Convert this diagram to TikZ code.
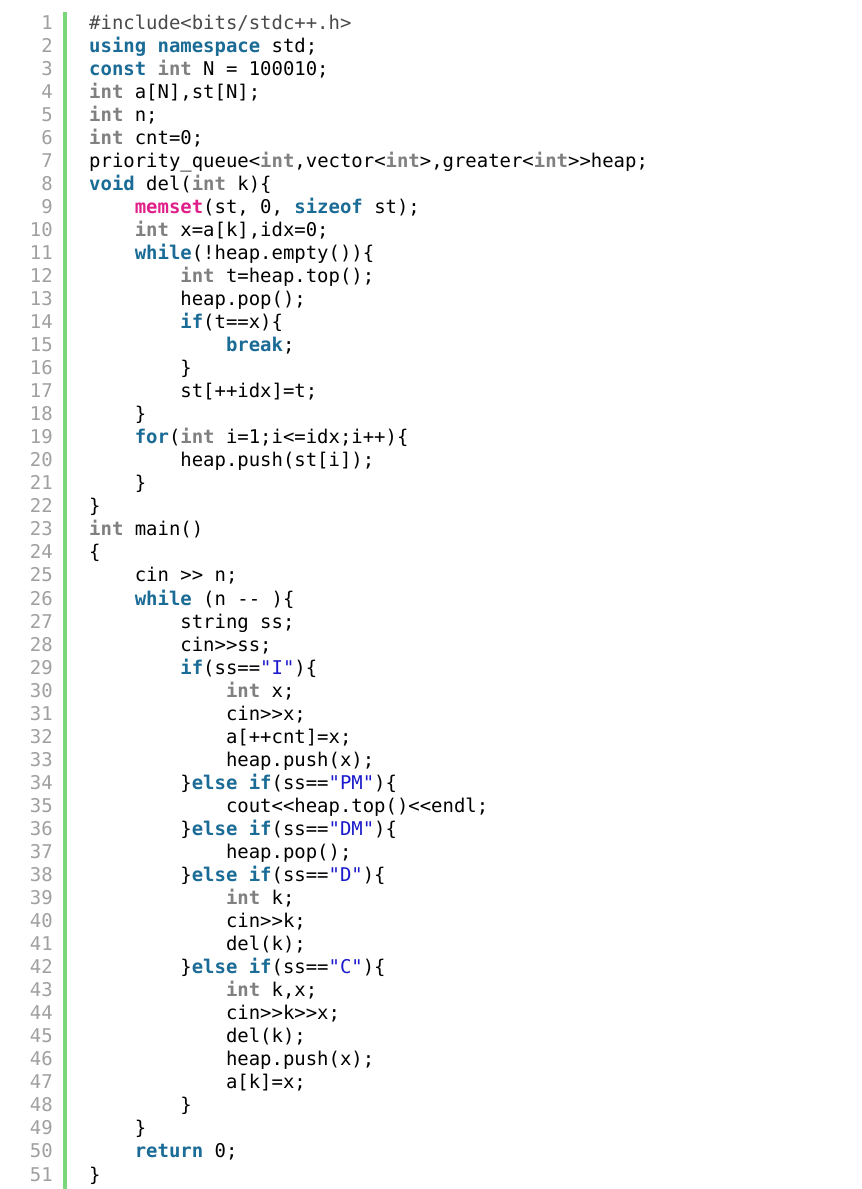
\documentclass[tikz,border=0pt]{standalone}
\usepackage{fontspec}
\setmonofont{DejaVu Sans Mono}
\definecolor{kwcol}{HTML}{1A6B96}
\definecolor{tycol}{HTML}{808080}
\definecolor{fncol}{HTML}{E0208A}
\definecolor{strcol}{HTML}{1A1ACC}
\definecolor{pptcol}{HTML}{4A4A4A}
\definecolor{numcol}{HTML}{A0A0A0}
\definecolor{barcol}{HTML}{7AD67A}
\newcommand\kwd[1]{\textcolor{kwcol}{\bfseries #1}}
\newcommand\typ[1]{\textcolor{tycol}{\bfseries #1}}
\newcommand\fnc[1]{\textcolor{fncol}{\bfseries #1}}
\newcommand\strg[1]{\textcolor{strcol}{#1}}
\newcommand\cl[3]{\node[codeline] (l#1) at ({89+45.6*#2},{29+23.04*(#1-1)}) {#3};}
\tikzset{
  codeline/.style={anchor=base west, inner sep=0pt, text=black, font=\ttfamily\fontsize{18.94pt}{23pt}\selectfont},
  lnum/.style={anchor=base east, inner sep=0pt, text=numcol, font=\ttfamily\fontsize{18.94pt}{23pt}\selectfont},
}
\begin{document}
\begin{tikzpicture}[x=1pt,y=-1pt]
\useasboundingbox[fill=white] (0,0) rectangle (862,1189);
\fill[barcol] (63,12) rectangle (67,1189);
\foreach \i in {1,...,51} {
  \node[lnum] (n\i) at (53,{29+23.04*(\i-1)}) {\i};
}
\cl{1}{0}{\textcolor{pptcol}{\#include<bits/stdc++.h>}}
\cl{2}{0}{\kwd{using} \kwd{namespace} std;}
\cl{3}{0}{\kwd{const} \typ{int} N = 100010;}
\cl{4}{0}{\typ{int} a[N],st[N];}
\cl{5}{0}{\typ{int} n;}
\cl{6}{0}{\typ{int} cnt=0;}
\cl{7}{0}{priority\_queue<\typ{int},vector<\typ{int}>,greater<\typ{int}>>heap;}
\cl{8}{0}{\kwd{void} del(\typ{int} k)\{}
\cl{9}{1}{\fnc{memset}(st, 0, \kwd{sizeof} st);}
\cl{10}{1}{\typ{int} x=a[k],idx=0;}
\cl{11}{1}{\kwd{while}(!heap.empty())\{}
\cl{12}{2}{\typ{int} t=heap.top();}
\cl{13}{2}{heap.pop();}
\cl{14}{2}{\kwd{if}(t==x)\{}
\cl{15}{3}{\kwd{break};}
\cl{16}{2}{\}}
\cl{17}{2}{st[++idx]=t;}
\cl{18}{1}{\}}
\cl{19}{1}{\kwd{for}(\typ{int} i=1;i<=idx;i++)\{}
\cl{20}{2}{heap.push(st[i]);}
\cl{21}{1}{\}}
\cl{22}{0}{\}}
\cl{23}{0}{\typ{int} main()}
\cl{24}{0}{\{}
\cl{25}{1}{cin >> n;}
\cl{26}{1}{\kwd{while} (n -{}- )\{}
\cl{27}{2}{string ss;}
\cl{28}{2}{cin>>ss;}
\cl{29}{2}{\kwd{if}(ss==\strg{"I"})\{}
\cl{30}{3}{\typ{int} x;}
\cl{31}{3}{cin>>x;}
\cl{32}{3}{a[++cnt]=x;}
\cl{33}{3}{heap.push(x);}
\cl{34}{2}{\}\kwd{else} \kwd{if}(ss==\strg{"PM"})\{}
\cl{35}{3}{cout<<heap.top()<<endl;}
\cl{36}{2}{\}\kwd{else} \kwd{if}(ss==\strg{"DM"})\{}
\cl{37}{3}{heap.pop();}
\cl{38}{2}{\}\kwd{else} \kwd{if}(ss==\strg{"D"})\{}
\cl{39}{3}{\typ{int} k;}
\cl{40}{3}{cin>>k;}
\cl{41}{3}{del(k);}
\cl{42}{2}{\}\kwd{else} \kwd{if}(ss==\strg{"C"})\{}
\cl{43}{3}{\typ{int} k,x;}
\cl{44}{3}{cin>>k>>x;}
\cl{45}{3}{del(k);}
\cl{46}{3}{heap.push(x);}
\cl{47}{3}{a[k]=x;}
\cl{48}{2}{\}}
\cl{49}{1}{\}}
\cl{50}{1}{\kwd{return} 0;}
\cl{51}{0}{\}}
\end{tikzpicture}
\end{document}
